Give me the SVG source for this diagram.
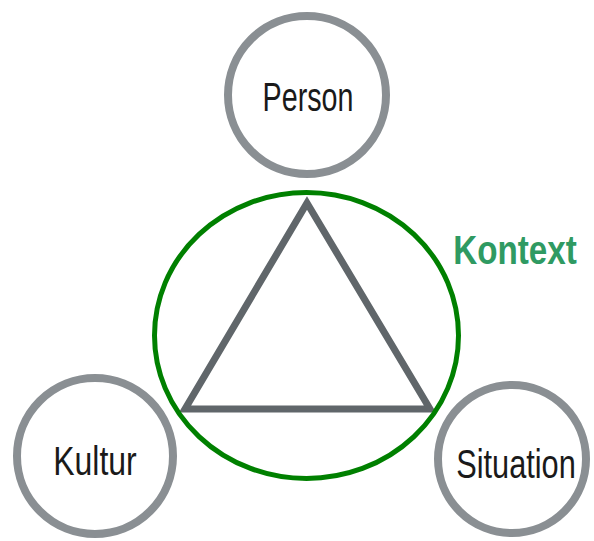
<svg xmlns="http://www.w3.org/2000/svg" width="594" height="541" viewBox="0 0 594 541">
<style>
.ring{fill:#fff;stroke:#8a8f93;stroke-width:8}
.lbl{font-family:"Liberation Sans","DejaVu Sans",sans-serif;font-size:41px;fill:#1a1a1a;text-anchor:middle}
</style>
<rect width="594" height="541" fill="#fff"/>
<g id="person"><circle class="ring" cx="307" cy="95" r="79"/><text class="lbl" transform="translate(308,111) scale(0.7,1)">Person</text></g>
<g id="kultur"><circle class="ring" cx="95" cy="456" r="78"/><text class="lbl" transform="translate(95,475) scale(0.78,1)">Kultur</text></g>
<g id="situation"><circle class="ring" cx="512" cy="459" r="74"/><text class="lbl" transform="translate(516,478) scale(0.75,1)">Situation</text></g>
<g id="connectors">
<polygon points="307,203 185,409 430,409" fill="none" stroke="#60666a" stroke-width="7" stroke-linejoin="miter"/>
</g>
<g id="kontext">
<ellipse cx="306.5" cy="335.5" rx="152" ry="143" fill="none" stroke="#008000" stroke-width="5"/>
<text transform="translate(515,264) scale(0.83,1)" text-anchor="middle" font-family="Liberation Sans,sans-serif" font-weight="bold" font-size="40" fill="#2f9a62">Kontext</text>
</g>
</svg>
